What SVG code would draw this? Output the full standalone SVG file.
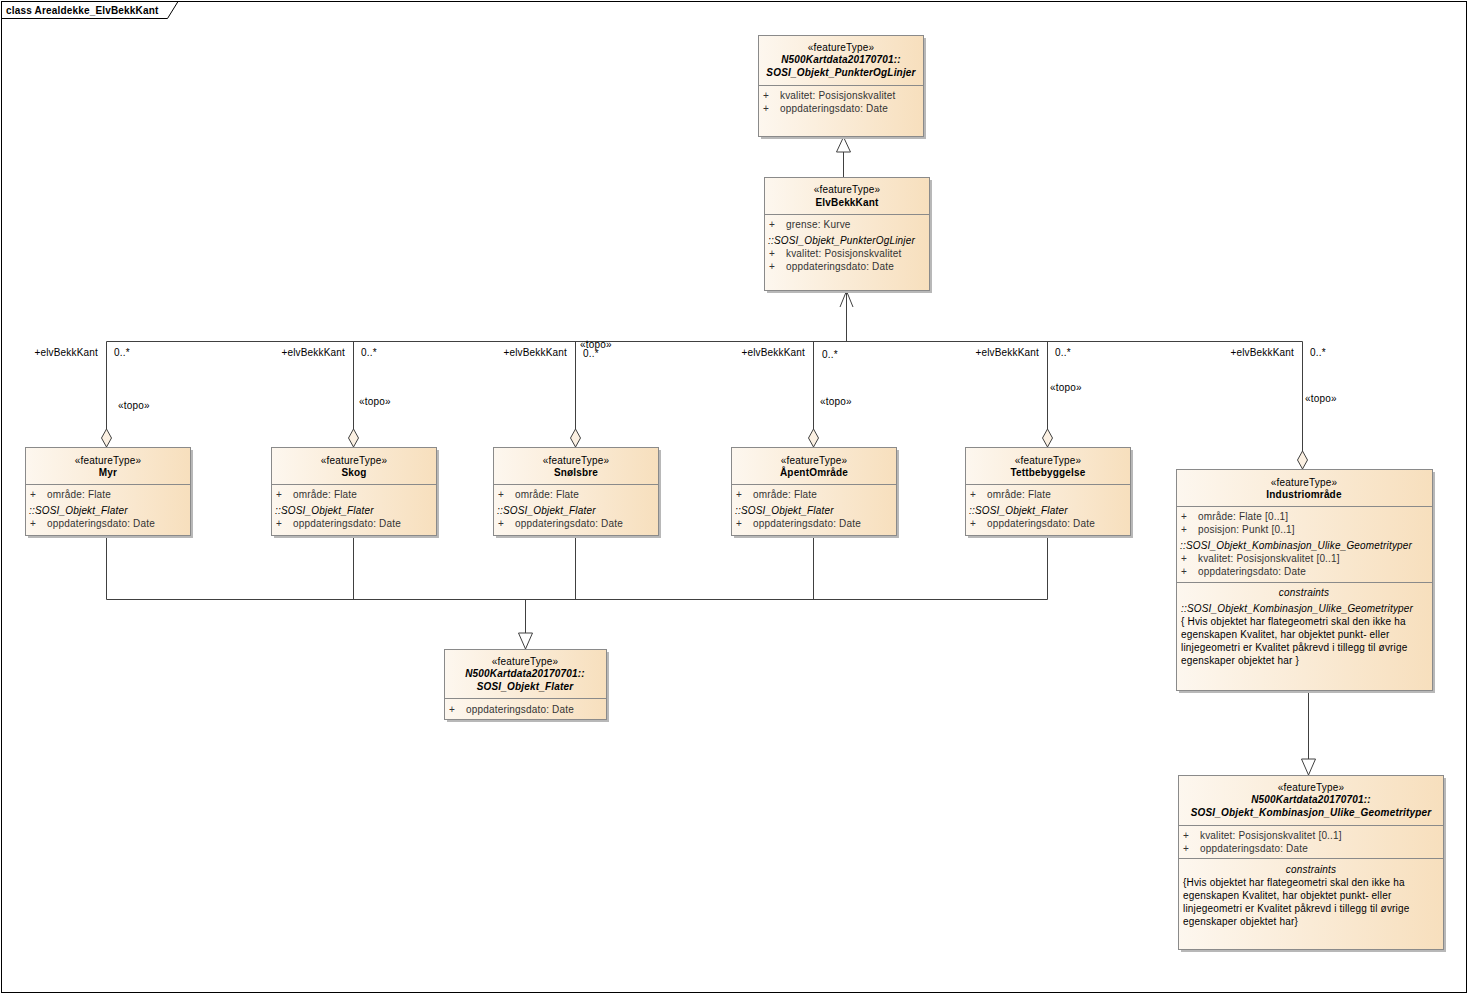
<svg xmlns="http://www.w3.org/2000/svg" width="1468" height="994" viewBox="0 0 1468 994">
<defs>
<linearGradient id="g" x1="0" y1="0" x2="1" y2="0">
<stop offset="0" stop-color="#fdf7ef"/>
<stop offset="1" stop-color="#f7dfbd"/>
</linearGradient>
<style>
text{font-family:"Liberation Sans",Arial,sans-serif;font-size:10px;fill:#000;letter-spacing:0.18px}
.st{text-anchor:middle}
.nm{text-anchor:middle;font-weight:bold}
.ni{text-anchor:middle;font-weight:bold;font-style:italic}
.a{fill:#333}
.it{font-style:italic;fill:#000}
.ci{text-anchor:middle;font-style:italic}
.box{fill:url(#g);stroke:#8a8a8a;stroke-width:1}
.sh{fill:#b8b8b8}
.dv{stroke:#8a8a8a;stroke-width:1}
.ln{fill:none;stroke:#404040;stroke-width:1}
.tri{fill:#fff;stroke:#404040;stroke-width:1}
.dia{fill:#fbf0e2;stroke:#404040;stroke-width:1}
.r{text-anchor:end}
</style>
</defs>
<rect x="0" y="0" width="1468" height="994" fill="#fff"/>
<g id="frame">
<rect x="1.5" y="1.5" width="1465" height="991" fill="none" stroke="#000" stroke-width="1"/>
<path d="M1.5 18.5 H167.5 L178 1.5" fill="none" stroke="#000" stroke-width="1"/>
<text x="6" y="14" font-weight="bold">class Arealdekke_ElvBekkKant</text>
</g>
<g id="connectors">
<line class="ln" x1="843.5" y1="152" x2="843.5" y2="177"/>
<polygon class="tri" points="843.5,137 836.5,152 850.5,152"/>
<path class="ln" d="M846.5 291 V341.5 M106.5 341.5 H1302.5 M106.5 341.5 V429 M353.5 341.5 V429 M575.5 341.5 V429 M813.5 341.5 V429 M1047.5 341.5 V429 M1302.5 341.5 V451"/>
<path class="ln" d="M840 307 L846.5 291 L853 307"/>
<polygon class="dia" points="106.5,429 111.5,438 106.5,447 101.5,438"/>
<polygon class="dia" points="353.5,429 358.5,438 353.5,447 348.5,438"/>
<polygon class="dia" points="575.5,429 580.5,438 575.5,447 570.5,438"/>
<polygon class="dia" points="813.5,429 818.5,438 813.5,447 808.5,438"/>
<polygon class="dia" points="1047.5,429 1052.5,438 1047.5,447 1042.5,438"/>
<polygon class="dia" points="1302.5,451 1307.5,460 1302.5,469 1297.5,460"/>
<text x="98" y="356" class="r">+elvBekkKant</text><text x="114" y="356">0..*</text><text x="118" y="409">«topo»</text>
<text x="345" y="356" class="r">+elvBekkKant</text><text x="361" y="356">0..*</text><text x="359" y="405">«topo»</text>
<text x="567" y="356" class="r">+elvBekkKant</text><text x="583" y="357">0..*</text><text x="580" y="348">«topo»</text>
<text x="805" y="356" class="r">+elvBekkKant</text><text x="822" y="358">0..*</text><text x="820" y="405">«topo»</text>
<text x="1039" y="356" class="r">+elvBekkKant</text><text x="1055" y="356">0..*</text><text x="1050" y="391">«topo»</text>
<text x="1294" y="356" class="r">+elvBekkKant</text><text x="1310" y="356">0..*</text><text x="1305" y="402">«topo»</text>
<path class="ln" d="M106.5 535 V599.5 H1047.5 M353.5 535 V599.5 M575.5 535 V599.5 M813.5 535 V599.5 M1047.5 535 V599.5 M525.5 599.5 V633"/>
<polygon class="tri" points="525.5,649 518.5,633 532.5,633"/>
<line class="ln" x1="1308.5" y1="691" x2="1308.5" y2="759"/>
<polygon class="tri" points="1308.5,775 1301.5,759 1315.5,759"/>
</g>
<g id="PunkterOgLinjer">
<rect class="sh" x="761" y="38" width="165" height="101"/>
<rect class="box" x="758.5" y="35.5" width="165" height="101"/>
<line class="dv" x1="758.5" y1="85.5" x2="923.5" y2="85.5"/>
<text class="st" x="841" y="51">«featureType»</text>
<text class="ni" x="841" y="63">N500Kartdata20170701::</text>
<text class="ni" x="841" y="76">SOSI_Objekt_PunkterOgLinjer</text>
<text class="a" x="763" y="99">+</text><text class="a" x="780" y="99">kvalitet: Posisjonskvalitet</text>
<text class="a" x="763" y="112">+</text><text class="a" x="780" y="112">oppdateringsdato: Date</text>
</g>
<g id="ElvBekkKant">
<rect class="sh" x="767" y="180" width="165" height="113"/>
<rect class="box" x="764.5" y="177.5" width="165" height="113"/>
<line class="dv" x1="764.5" y1="214.5" x2="929.5" y2="214.5"/>
<text class="st" x="847" y="193">«featureType»</text>
<text class="nm" x="847" y="206">ElvBekkKant</text>
<text class="a" x="769" y="228">+</text><text class="a" x="786" y="228">grense: Kurve</text>
<text class="it" x="768" y="244">::SOSI_Objekt_PunkterOgLinjer</text>
<text class="a" x="769" y="257">+</text><text class="a" x="786" y="257">kvalitet: Posisjonskvalitet</text>
<text class="a" x="769" y="270">+</text><text class="a" x="786" y="270">oppdateringsdato: Date</text>
</g>
<g id="Myr">
<rect class="sh" x="28" y="450" width="165" height="88"/>
<rect class="box" x="25.5" y="447.5" width="165" height="88"/>
<line class="dv" x1="25.5" y1="484.5" x2="190.5" y2="484.5"/>
<text class="st" x="108" y="464">«featureType»</text>
<text class="nm" x="108" y="476">Myr</text>
<text class="a" x="30" y="498">+</text><text class="a" x="47" y="498">område: Flate</text>
<text class="it" x="29" y="514">::SOSI_Objekt_Flater</text>
<text class="a" x="30" y="527">+</text><text class="a" x="47" y="527">oppdateringsdato: Date</text>
</g>
<g id="Skog">
<rect class="sh" x="274" y="450" width="165" height="88"/>
<rect class="box" x="271.5" y="447.5" width="165" height="88"/>
<line class="dv" x1="271.5" y1="484.5" x2="436.5" y2="484.5"/>
<text class="st" x="354" y="464">«featureType»</text>
<text class="nm" x="354" y="476">Skog</text>
<text class="a" x="276" y="498">+</text><text class="a" x="293" y="498">område: Flate</text>
<text class="it" x="275" y="514">::SOSI_Objekt_Flater</text>
<text class="a" x="276" y="527">+</text><text class="a" x="293" y="527">oppdateringsdato: Date</text>
</g>
<g id="Snolsbre">
<rect class="sh" x="496" y="450" width="165" height="88"/>
<rect class="box" x="493.5" y="447.5" width="165" height="88"/>
<line class="dv" x1="493.5" y1="484.5" x2="658.5" y2="484.5"/>
<text class="st" x="576" y="464">«featureType»</text>
<text class="nm" x="576" y="476">Snølsbre</text>
<text class="a" x="498" y="498">+</text><text class="a" x="515" y="498">område: Flate</text>
<text class="it" x="497" y="514">::SOSI_Objekt_Flater</text>
<text class="a" x="498" y="527">+</text><text class="a" x="515" y="527">oppdateringsdato: Date</text>
</g>
<g id="ApentOmrade">
<rect class="sh" x="734" y="450" width="165" height="88"/>
<rect class="box" x="731.5" y="447.5" width="165" height="88"/>
<line class="dv" x1="731.5" y1="484.5" x2="896.5" y2="484.5"/>
<text class="st" x="814" y="464">«featureType»</text>
<text class="nm" x="814" y="476">ÅpentOmråde</text>
<text class="a" x="736" y="498">+</text><text class="a" x="753" y="498">område: Flate</text>
<text class="it" x="735" y="514">::SOSI_Objekt_Flater</text>
<text class="a" x="736" y="527">+</text><text class="a" x="753" y="527">oppdateringsdato: Date</text>
</g>
<g id="Tettbebyggelse">
<rect class="sh" x="968" y="450" width="165" height="88"/>
<rect class="box" x="965.5" y="447.5" width="165" height="88"/>
<line class="dv" x1="965.5" y1="484.5" x2="1130.5" y2="484.5"/>
<text class="st" x="1048" y="464">«featureType»</text>
<text class="nm" x="1048" y="476">Tettbebyggelse</text>
<text class="a" x="970" y="498">+</text><text class="a" x="987" y="498">område: Flate</text>
<text class="it" x="969" y="514">::SOSI_Objekt_Flater</text>
<text class="a" x="970" y="527">+</text><text class="a" x="987" y="527">oppdateringsdato: Date</text>
</g>
<g id="Industriomrade">
<rect class="sh" x="1179" y="472" width="256" height="221"/>
<rect class="box" x="1176.5" y="469.5" width="256" height="221"/>
<line class="dv" x1="1176.5" y1="506.5" x2="1432.5" y2="506.5"/>
<line class="dv" x1="1176.5" y1="582.5" x2="1432.5" y2="582.5"/>
<text class="st" x="1304" y="486">«featureType»</text>
<text class="nm" x="1304" y="498">Industriområde</text>
<text class="a" x="1181" y="520">+</text><text class="a" x="1198" y="520">område: Flate [0..1]</text>
<text class="a" x="1181" y="533">+</text><text class="a" x="1198" y="533">posisjon: Punkt [0..1]</text>
<text class="it" x="1180" y="549">::SOSI_Objekt_Kombinasjon_Ulike_Geometrityper</text>
<text class="a" x="1181" y="562">+</text><text class="a" x="1198" y="562">kvalitet: Posisjonskvalitet [0..1]</text>
<text class="a" x="1181" y="575">+</text><text class="a" x="1198" y="575">oppdateringsdato: Date</text>
<text class="ci" x="1304" y="596">constraints</text>
<text class="it" x="1181" y="612">::SOSI_Objekt_Kombinasjon_Ulike_Geometrityper</text>
<text x="1181" y="625">{ Hvis objektet har flategeometri skal den ikke ha</text>
<text x="1181" y="638">egenskapen Kvalitet, har objektet punkt- eller</text>
<text x="1181" y="651">linjegeometri er Kvalitet påkrevd i tillegg til øvrige</text>
<text x="1181" y="664">egenskaper objektet har }</text>
</g>
<g id="Flater">
<rect class="sh" x="447" y="652" width="162" height="70"/>
<rect class="box" x="444.5" y="649.5" width="162" height="70"/>
<line class="dv" x1="444.5" y1="698.5" x2="606.5" y2="698.5"/>
<text class="st" x="525" y="665">«featureType»</text>
<text class="ni" x="525" y="677">N500Kartdata20170701::</text>
<text class="ni" x="525" y="690">SOSI_Objekt_Flater</text>
<text class="a" x="449" y="713">+</text><text class="a" x="466" y="713">oppdateringsdato: Date</text>
</g>
<g id="Kombinasjon">
<rect class="sh" x="1181" y="778" width="265" height="174"/>
<rect class="box" x="1178.5" y="775.5" width="265" height="174"/>
<line class="dv" x1="1178.5" y1="825.5" x2="1443.5" y2="825.5"/>
<line class="dv" x1="1178.5" y1="858.5" x2="1443.5" y2="858.5"/>
<text class="st" x="1311" y="791">«featureType»</text>
<text class="ni" x="1311" y="803">N500Kartdata20170701::</text>
<text class="ni" x="1311" y="816">SOSI_Objekt_Kombinasjon_Ulike_Geometrityper</text>
<text class="a" x="1183" y="839">+</text><text class="a" x="1200" y="839">kvalitet: Posisjonskvalitet [0..1]</text>
<text class="a" x="1183" y="852">+</text><text class="a" x="1200" y="852">oppdateringsdato: Date</text>
<text class="ci" x="1311" y="873">constraints</text>
<text x="1183" y="886">{Hvis objektet har flategeometri skal den ikke ha</text>
<text x="1183" y="899">egenskapen Kvalitet, har objektet punkt- eller</text>
<text x="1183" y="912">linjegeometri er Kvalitet påkrevd i tillegg til øvrige</text>
<text x="1183" y="925">egenskaper objektet har}</text>
</g>
</svg>
